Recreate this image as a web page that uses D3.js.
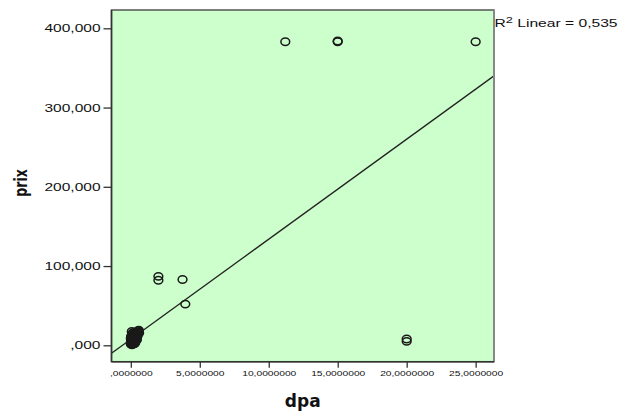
<!DOCTYPE html>
<html><head><meta charset="utf-8">
<script src="https://cdn.jsdelivr.net/npm/d3@7"></script>
<style>body{margin:0;background:#fff}svg{display:block}</style>
</head><body>
<svg id="chart" width="632" height="415"></svg>
<script>
// ---- data ----
const dpa = [
  0.00,0.02,0.05,0.08,0.10,0.03,0.12,0.15,0.18,0.20,0.05,0.22,0.25,0.28,0.30,
  0.10,0.33,0.35,0.38,0.40,0.45,0.50,0.55,0.42,0.15,0.02,0.30,0.48,0.60,0.08,
  0.58,0.52,0.01,0.04,0.06,0.12,0.16,0.19,0.24,0.27,0.32,0.36,0.44,0.21,0.09,
  0.14,0.26,0.34,0.00,0.07,
  2.0,2.0,3.75,3.95,
  20.0,20.0,
  11.2,15.0,15.0,25.0
];
const prix = [
  1500,3000,2000,4500,6000,8000,9500,3500,7000,11000,12000,5000,8500,13000,2500,
  14000,10000,6500,15000,12500,16500,14000,17000,9000,16000,10500,4000,11500,15500,700,
  19000,18500,5500,6000,9500,1200,12500,4000,2000,10500,7500,13500,7000,15500,3000,
  6500,16000,4500,9000,17500,
  87000,82000,83000,52000,
  8000,5000,
  383000,383000,384000,383000
];
const xTicks = [0,5,10,15,20,25];
const xTickLabels = [",0000000","5,0000000","10,0000000","15,0000000","20,0000000","25,0000000"];
const yTicks = [0,100000,200000,300000,400000];
const yTickLabels = [",000","100,000","200,000","300,000","400,000"];
const fitIntercept = 7700;   // fitted linear line, prix = a + b*dpa
const fitSlope = 12620;
const r2Text = "0,535";
const xTitle = "dpa", yTitle = "prix";

// ---- layout ----
const L = 111.5, R = 494, T = 10, B = 361.7;
const svg = d3.select("#chart");
const x = d3.scaleLinear().domain([-1.4, 26.33]).range([L, R]);
const y = d3.scaleLinear().domain([-20700, 423100]).range([B, T]);

svg.append("rect").attr("x",L).attr("y",T).attr("width",R-L).attr("height",B-T)
  .attr("fill","#ccffcc");

svg.append("defs").append("clipPath").attr("id","clip")
  .append("rect").attr("x",L).attr("y",T).attr("width",R-L).attr("height",B-T);

const plot = svg.append("g").attr("clip-path","url(#clip)");
const [x0,x1] = x.domain();
plot.append("line")
  .attr("x1",x(x0)).attr("y1",y(fitIntercept+fitSlope*x0))
  .attr("x2",x(x1)).attr("y2",y(fitIntercept+fitSlope*x1))
  .attr("stroke","#222").attr("stroke-width",1.3);

plot.selectAll("ellipse.pt").data(dpa.map((d,i)=>[d,prix[i]])).join("ellipse")
  .attr("class","pt")
  .attr("cx",d=>x(d[0])).attr("cy",d=>y(d[1]))
  .attr("rx",4.4).attr("ry",3.7)
  .attr("fill","none").attr("stroke","#1a1a1a").attr("stroke-width",1.5);

// border
svg.append("rect").attr("x",L).attr("y",T).attr("width",R-L).attr("height",B-T)
  .attr("fill","none").attr("stroke","#555").attr("stroke-width",1.5);
svg.append("line").attr("x1",R).attr("x2",R).attr("y1",T).attr("y2",B)
  .attr("stroke","#888").attr("stroke-width",2);
svg.append("line").attr("x1",L).attr("x2",L).attr("y1",T).attr("y2",B)
  .attr("stroke","#333").attr("stroke-width",1.5);
svg.append("line").attr("x1",L).attr("x2",R).attr("y1",B).attr("y2",B)
  .attr("stroke","#333").attr("stroke-width",1.5);

function stretch(sel, factor){
  sel.each(function(){
    const w = this.getComputedTextLength();
    d3.select(this).attr("textLength", w*factor).attr("lengthAdjust","spacingAndGlyphs");
  });
}

// y axis
const ya = svg.append("g").attr("transform",`translate(${L},0)`)
  .call(d3.axisLeft(y).tickValues(yTicks).tickFormat((d,i)=>yTickLabels[i]).tickSize(8).tickPadding(3));
ya.select(".domain").remove();
ya.selectAll("line").attr("stroke","#333").attr("stroke-width",1.3);
ya.selectAll("text").attr("font-family","Liberation Sans, Arial, sans-serif")
  .attr("font-size",11).attr("fill","#111").call(stretch,1.41);

// x axis
const xa = svg.append("g").attr("transform",`translate(0,${B})`)
  .call(d3.axisBottom(x).tickValues(xTicks).tickFormat((d,i)=>xTickLabels[i]).tickSize(6).tickPadding(3));
xa.select(".domain").remove();
xa.selectAll("line").attr("stroke","#333").attr("stroke-width",1.3);
xa.selectAll("text").attr("font-family","Liberation Sans, Arial, sans-serif")
  .attr("font-size",8).attr("fill","#111").call(stretch,1.28);

// titles
svg.append("text").attr("x",(L+R)/2).attr("y",406.5).attr("text-anchor","middle")
  .attr("font-family","DejaVu Sans, sans-serif").attr("font-weight","bold")
  .attr("font-size",17).attr("fill","#111").text(xTitle);
svg.append("text")
  .attr("transform",`translate(27,183) scale(1.4,1) rotate(-90)`)
  .attr("text-anchor","middle")
  .attr("font-family","DejaVu Sans, sans-serif").attr("font-weight","bold")
  .attr("font-size",12.5).attr("fill","#111").text(yTitle);

// R2 annotation
const r2 = svg.append("text").attr("x",R+0.5).attr("y",27)
  .attr("font-family","Liberation Sans, Arial, sans-serif").attr("font-size",11).attr("fill","#111");
r2.append("tspan").text("R");
r2.append("tspan").attr("font-size",9).attr("dy",-4.5).text("2");
r2.append("tspan").attr("dy",4.5).text(" Linear = " + r2Text);
stretch(r2, 1.42);
</script>
</body></html>
